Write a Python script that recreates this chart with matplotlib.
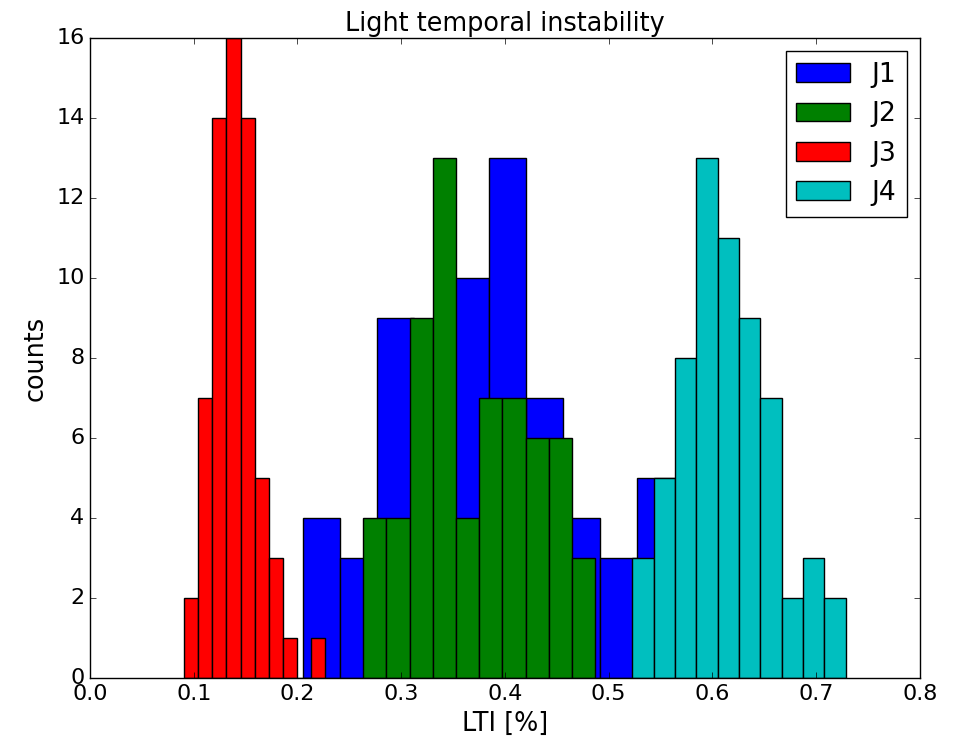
import numpy as np
import matplotlib
matplotlib.use("Agg")
import matplotlib.pyplot as plt

# histogram counts per series, 10 bins each
labels = ["J1", "J2", "J3", "J4"]
colors = ["b", "g", "r", "c"]
counts = [
    [4, 3, 9, 5, 10, 13, 7, 4, 3, 5],
    [4, 4, 9, 13, 4, 7, 7, 6, 6, 3],
    [2, 7, 14, 16, 14, 5, 3, 1, 0, 1],
    [3, 5, 8, 13, 11, 9, 7, 2, 3, 2],
]
# min and max LTI of each series (range of the bins)
ranges = [
    (0.2050, 0.5635),
    (0.2634, 0.4870),
    (0.0906, 0.2268),
    (0.5227, 0.7284),
]

plt.style.use("classic")
plt.rcParams["font.size"] = 16

fig = plt.figure(figsize=(9.6, 7.44), dpi=100)
fig.subplots_adjust(left=0.09375, right=0.9583, top=0.9489, bottom=0.0887)
ax = fig.add_subplot(111)

for c, (lo, hi), col, lab in zip(counts, ranges, colors, labels):
    edges = np.linspace(lo, hi, len(c) + 1)
    ax.hist(edges[:-1], bins=edges, weights=c, color=col, label=lab)

ax.set_xlim(0.0, 0.8)
ax.set_ylim(0, 16)
ax.set_title("Light temporal instability", fontsize=18.4)
ax.set_xlabel("LTI [%]", fontsize=18.4)
ax.set_ylabel("counts", fontsize=18.4)
ax.legend(loc="upper right")

fig.savefig("out.png", dpi=100)
